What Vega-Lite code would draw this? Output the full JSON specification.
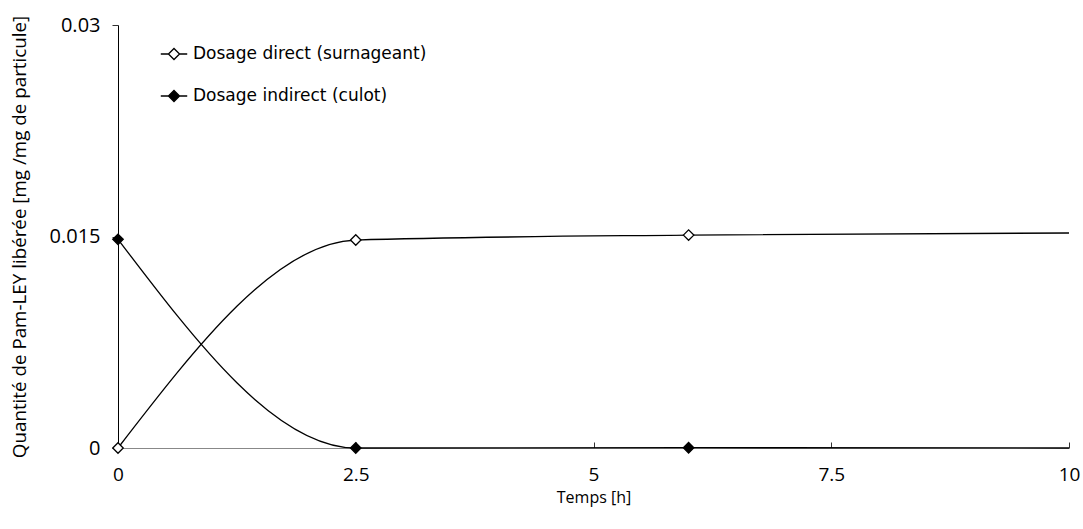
{
  "$schema": "https://vega.github.io/schema/vega-lite/v6.json",
  "width": 951,
  "height": 423,
  "autosize": {"type": "none"},
  "padding": {"left": 118, "top": 25, "right": 14, "bottom": 81},
  "background": "white",
  "config": {
    "view": {"stroke": null},
    "font": "Open Sans"
  },
  "data": {
    "values": [
      {"t": 0, "q": 0.0, "serie": "Dosage direct (surnageant)", "mesure": true},
      {"t": 2.5, "q": 0.01475, "serie": "Dosage direct (surnageant)", "mesure": true},
      {"t": 6, "q": 0.0151, "serie": "Dosage direct (surnageant)", "mesure": true},
      {"t": 10, "q": 0.01525, "serie": "Dosage direct (surnageant)", "mesure": false},
      {"t": 0, "q": 0.0148, "serie": "Dosage indirect (culot)", "mesure": true},
      {"t": 2.5, "q": 0.0, "serie": "Dosage indirect (culot)", "mesure": true},
      {"t": 6, "q": 0.00002, "serie": "Dosage indirect (culot)", "mesure": true},
      {"t": 10, "q": 0.0, "serie": "Dosage indirect (culot)", "mesure": false}
    ]
  },
  "encoding": {
    "x": {
      "field": "t", "type": "quantitative",
      "scale": {"domain": [0, 10], "nice": false, "zero": false},
      "axis": {
        "values": [0, 2.5, 5, 7.5, 10],
        "labelExpr": "'' + datum.value",
        "labelFlush": false,
        "title": "Temps [h]",
        "grid": false,
        "domainColor": "#888888",
        "domainWidth": 1,
        "tickColor": "#333333",
        "tickSize": -6,
        "labelPadding": 23,
        "labelFontSize": 19,
        "labelColor": "black",
        "titleFontSize": 16,
        "titleFontWeight": "normal",
        "titleColor": "black",
        "titlePadding": 5
      }
    },
    "y": {
      "field": "q", "type": "quantitative",
      "scale": {"domain": [0, 0.03], "nice": false},
      "axis": {
        "values": [0, 0.015, 0.03],
        "labelExpr": "'' + datum.value",
        "labelFlush": false,
        "title": "Quantité de Pam-LEY libérée [mg /mg de particule]",
        "grid": false,
        "domainColor": "black",
        "domainWidth": 1,
        "tickColor": "#333333",
        "tickSize": 6,
        "labelPadding": 12,
        "labelFontSize": 20,
        "labelColor": "black",
        "titleFontSize": 18.8,
        "titleFontWeight": "normal",
        "titleColor": "black",
        "titlePadding": 20
      }
    }
  },
  "layer": [
    {
      "mark": {"type": "line", "interpolate": "monotone", "strokeWidth": 1.3, "color": "black"},
      "encoding": {"detail": {"field": "serie"}}
    },
    {
      "transform": [{"filter": "datum.mesure"}],
      "mark": {"type": "point", "shape": "diamond", "size": 110, "stroke": "black", "strokeWidth": 1.3, "opacity": 1},
      "encoding": {
        "fill": {
          "field": "serie", "type": "nominal",
          "scale": {"domain": ["Dosage direct (surnageant)", "Dosage indirect (culot)"], "range": ["white", "black"]},
          "legend": {
            "title": null,
            "orient": "none",
            "legendX": 42,
            "legendY": 15,
            "symbolType": "M-1,0L-0.42,0M0.42,0L1,0M-0.42,0L0,-0.42L0.42,0L0,0.42Z",
            "symbolSize": 700,
            "symbolStrokeColor": "black",
            "symbolStrokeWidth": 1.3,
            "labelFontSize": 17,
            "labelFont": "DejaVu Sans",
            "labelColor": "black",
            "labelLimit": 0,
            "rowPadding": 19,
            "labelOffset": 5
          }
        }
      }
    }
  ]
}
